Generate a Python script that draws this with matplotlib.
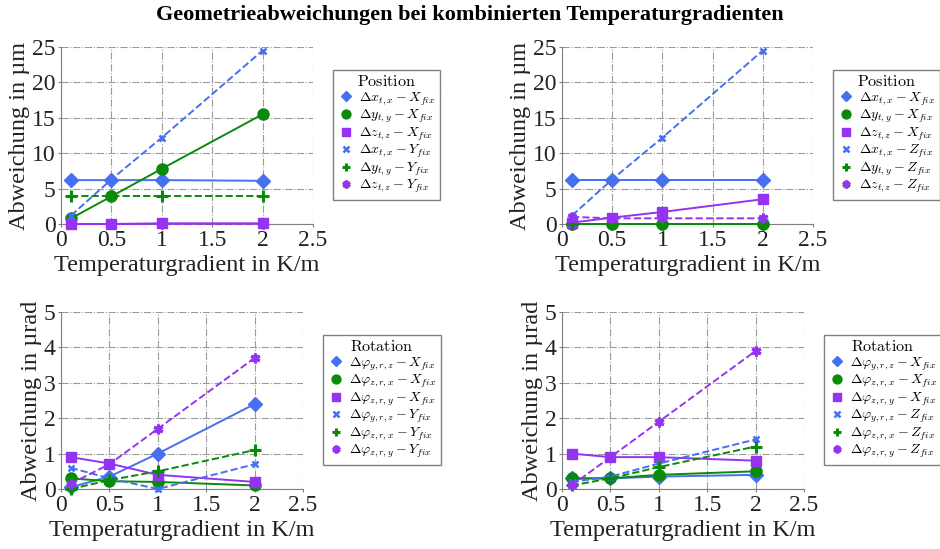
import matplotlib
matplotlib.use("Agg")
import matplotlib.pyplot as plt
from matplotlib.lines import Line2D

plt.rcParams['font.family'] = ['Liberation Serif', 'DejaVu Serif']
plt.rcParams['mathtext.fontset'] = 'cm'

x = [0.1, 0.5, 1, 2]

# Position, left (X_fix / Y_fix)
pos_l = {
    'dx_X': [6.2, 6.2, 6.2, 6.1],
    'dy_X': [0.8, 3.9, 7.8, 15.5],
    'dz_X': [0.0, 0.0, 0.1, 0.1],
    'dx_Y': [1.2, 6.3, 12.2, 24.5],
    'dy_Y': [3.9, 3.9, 3.9, 3.9],
    'dz_Y': [0.0, 0.0, 0.0, 0.0],
}
# Position, right (X_fix / Z_fix)
pos_r = {
    'dx_X': [6.2, 6.2, 6.2, 6.2],
    'dy_X': [0.0, 0.0, 0.0, 0.0],
    'dz_X': [0.2, 0.9, 1.7, 3.5],
    'dx_Z': [1.2, 6.3, 12.2, 24.5],
    'dy_Z': [0.0, 0.0, 0.0, 0.0],
    'dz_Z': [1.0, 0.8, 0.8, 0.8],
}
# Rotation, left (X_fix / Y_fix)
rot_l = {
    'pyrz_X': [0.05, 0.35, 1.0, 2.4],
    'pzrx_X': [0.3, 0.22, 0.2, 0.1],
    'pzry_X': [0.9, 0.72, 0.4, 0.2],
    'pyrz_Y': [0.6, 0.3, 0.0, 0.7],
    'pzrx_Y': [0.0, 0.25, 0.5, 1.1],
    'pzry_Y': [0.15, 0.7, 1.7, 3.7],
}
# Rotation, right (X_fix / Z_fix)
rot_r = {
    'pyrz_X': [0.3, 0.3, 0.35, 0.4],
    'pzrx_X': [0.3, 0.3, 0.4, 0.5],
    'pzry_X': [1.0, 0.9, 0.9, 0.8],
    'pyrz_Z': [0.2, 0.35, 0.72, 1.4],
    'pzrx_Z': [0.1, 0.3, 0.62, 1.2],
    'pzry_Z': [0.1, 0.9, 1.9, 3.9],
}

pos_labels_l = [r'$\Delta x_{t,x} - X_{fix}$', r'$\Delta y_{t,y} - X_{fix}$', r'$\Delta z_{t,z} - X_{fix}$',
                r'$\Delta x_{t,x} - Y_{fix}$', r'$\Delta y_{t,y} - Y_{fix}$', r'$\Delta z_{t,z} - Y_{fix}$']
pos_labels_r = [r'$\Delta x_{t,x} - X_{fix}$', r'$\Delta y_{t,y} - X_{fix}$', r'$\Delta z_{t,z} - X_{fix}$',
                r'$\Delta x_{t,x} - Z_{fix}$', r'$\Delta y_{t,y} - Z_{fix}$', r'$\Delta z_{t,z} - Z_{fix}$']
rot_labels_l = [r'$\Delta\varphi_{y,r,z} - X_{fix}$', r'$\Delta\varphi_{z,r,x} - X_{fix}$', r'$\Delta\varphi_{z,r,y} - X_{fix}$',
                r'$\Delta\varphi_{y,r,z} - Y_{fix}$', r'$\Delta\varphi_{z,r,x} - Y_{fix}$', r'$\Delta\varphi_{z,r,y} - Y_{fix}$']
rot_labels_r = [r'$\Delta\varphi_{y,r,z} - X_{fix}$', r'$\Delta\varphi_{z,r,x} - X_{fix}$', r'$\Delta\varphi_{z,r,y} - X_{fix}$',
                r'$\Delta\varphi_{y,r,z} - Z_{fix}$', r'$\Delta\varphi_{z,r,x} - Z_{fix}$', r'$\Delta\varphi_{z,r,y} - Z_{fix}$']

BLUE = '#4670f0'
GREEN = '#0a8a0a'
PURPLE = '#9433f0'
ASTER = (6, 2, 0)
styles = [
    dict(color=BLUE, marker='D', ls='-', ms=7),
    dict(color=GREEN, marker='o', ls='-', ms=8),
    dict(color=PURPLE, marker='s', ls='-', ms=7),
    dict(color=BLUE, marker='x', ls='--', ms=5, mew=1.8),
    dict(color=GREEN, marker='+', ls='--', ms=8, mew=2.2),
    dict(color=PURPLE, marker=ASTER, ls='--', ms=7, mew=2.2),
]

fig = plt.figure(figsize=(9.4, 5.49), dpi=100)
fig.suptitle('Geometrieabweichungen bei kombinierten Temperaturgradienten',
             fontsize=16, fontweight='bold', y=0.99)

W, H = 940, 549
def frac(l, r, t, b):
    return [l / W, 1 - b / H, (r - l) / W, (b - t) / H]

axes_specs = [
    (frac(61, 313, 47, 224), pos_l, pos_labels_l, 25, 'Abweichung in µm', 'Position', (333, 70)),
    (frac(562, 813, 47, 224), pos_r, pos_labels_r, 25, 'Abweichung in µm', 'Position', (833, 70)),
    (frac(61, 303, 312, 489), rot_l, rot_labels_l, 5, 'Abweichung in µrad', 'Rotation', (323, 335)),
    (frac(562, 804, 312, 489), rot_r, rot_labels_r, 5, 'Abweichung in µrad', 'Rotation', (824, 335)),
]

legends = []
for rect, data, labels, ymax, ylabel, ltitle, lpos in axes_specs:
    ax = fig.add_axes(rect)
    handles = []
    for (key, vals), st, lab in zip(data.items(), styles, labels):
        ax.plot(x, vals, lw=1.4, clip_on=False, zorder=3, **st)
        h = Line2D([], [], color=st['color'], marker=st['marker'], ls='none',
                   ms=st['ms'] * 0.8, mew=st.get('mew', 1.0))
        handles.append(h)
    ax.set_xlim(0, 2.5)
    ax.set_ylim(0, ymax)
    ax.set_xticks([0, 0.5, 1, 1.5, 2, 2.5])
    ax.set_xticklabels(['0', '0.5', '1', '1.5', '2', '2.5'])
    if ymax == 25:
        ax.set_yticks([0, 5, 10, 15, 20, 25])
    else:
        ax.set_yticks([0, 1, 2, 3, 4, 5])
    ax.grid(True, ls='-.', color='#9a9a9a', lw=0.8)
    ax.set_axisbelow(True)
    for s in ['top', 'right']:
        ax.spines[s].set_visible(False)
    for s in ['left', 'bottom']:
        ax.spines[s].set_color('#808080')
    ax.tick_params(length=2, color='#808080', labelsize=17, labelcolor='#222222', pad=2)
    ax.set_xlabel('Temperaturgradient in K/m', fontsize=17.5, color='#222222', labelpad=3)
    ax.set_ylabel(ylabel, fontsize=17.5, color='#222222', labelpad=1)
    leg = fig.legend(handles, labels, loc='upper left',
                     bbox_to_anchor=(lpos[0] / W, 1 - lpos[1] / H),
                     title=r'$\mathrm{' + ltitle + '}$', title_fontsize=11.5,
                     fontsize=10, frameon=True, fancybox=False, edgecolor='#808080',
                     framealpha=1, borderpad=0.3, labelspacing=0.02, handletextpad=0.4,
                     handlelength=1.2, borderaxespad=0)
    leg.get_frame().set_linewidth(1.0)
    legends.append(leg)

fig.canvas.draw()
renderer = fig.canvas.get_renderer()
for leg in legends:
    fb = leg.get_frame().get_window_extent(renderer)
    tb = leg.get_title().get_window_extent(renderer)
    ysep = tb.y0 - 3
    fig.add_artist(Line2D([fb.x0 / W, fb.x1 / W], [ysep / H, ysep / H],
                          transform=fig.transFigure, color='#808080', lw=1.0))

fig.savefig('out.png', dpi=100)
